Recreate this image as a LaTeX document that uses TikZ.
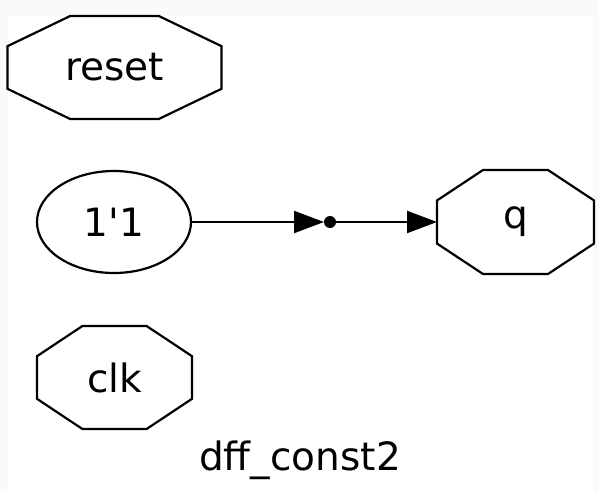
\documentclass[tikz,border=0pt]{standalone}
\usepackage{fontspec}
\setmainfont{DejaVu Sans}
\usetikzlibrary{arrows.meta,calc,shapes.geometric}
\definecolor{pagegrey}{HTML}{FAFAFA}
% octagon drawn round a (boxed) node
\newcommand{\octo}[1]{%
  \draw[line width=1.1pt]
    ($(#1.north west)!0.293!(#1.north east)$) -- ($(#1.north west)!0.707!(#1.north east)$)
    -- ($(#1.north east)!0.293!(#1.south east)$) -- ($(#1.north east)!0.707!(#1.south east)$)
    -- ($(#1.south west)!0.707!(#1.south east)$) -- ($(#1.south west)!0.293!(#1.south east)$)
    -- ($(#1.north west)!0.707!(#1.south west)$) -- ($(#1.north west)!0.293!(#1.south west)$)
    -- cycle;}
\tikzset{
  port/.style={rectangle,inner sep=0pt,outer sep=0pt,font=\fontsize{19.5}{23}\selectfont},
  const/.style={ellipse,draw,line width=1.1pt,inner sep=0pt,outer sep=0pt,
    minimum width=77pt,minimum height=51pt,font=\fontsize{19.5}{23}\selectfont},
  junc/.style={circle,fill=black,inner sep=0pt,outer sep=0pt,minimum size=6pt},
  wire/.style={line width=1.1pt,-{Triangle[length=15pt,width=11pt]}},
  lbl/.style={font=\fontsize{19.5}{23}\selectfont},
}
\begin{document}
\begin{tikzpicture}[x=0.5pt,y=-0.5pt]
  \fill[pagegrey] (0,0) rectangle (599,492);
  \fill[white] (8,16) rectangle (594,492);
  \useasboundingbox (0,0) rectangle (599,492);

  \node[port,minimum width=107pt,minimum height=51.5pt] (reset) at (114.5,67.5) {reset};
  \octo{reset}
  \node[const] (one) at (114,222) {1\textquotesingle 1};
  \node[junc] (j) at (330,222) {};
  \node[port,minimum width=78.5pt,minimum height=52pt] (q) at (515.5,222) {q};
  \octo{q}
  \node[port,minimum width=77.5pt,minimum height=51.5pt] (clk) at (114.5,377.5) {clk};
  \octo{clk}

  \draw[wire] (one) -- (j.west);
  \draw[wire] (j) -- (q.west);

  \node[lbl,anchor=base] (title) at (300,470) {dff\_const2};
\end{tikzpicture}
\end{document}
